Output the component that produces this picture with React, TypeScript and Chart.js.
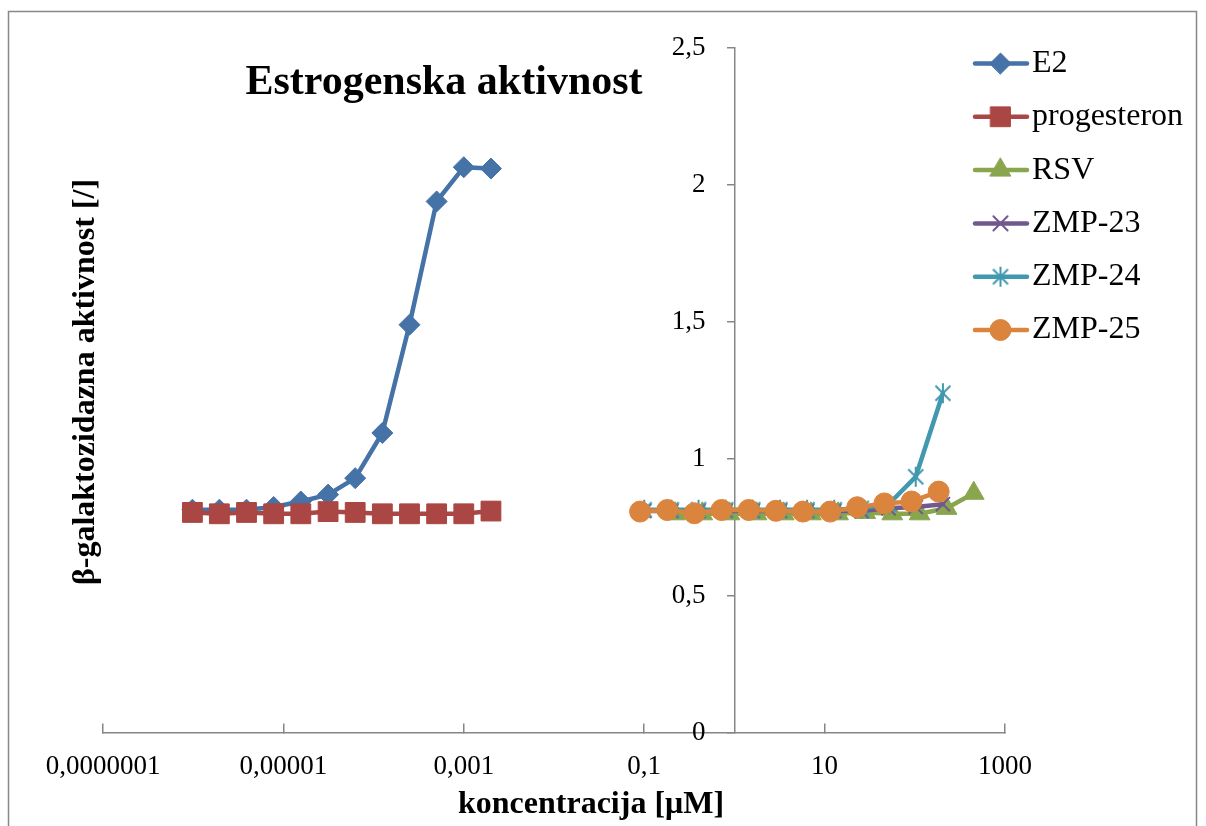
import React, { useEffect, useRef } from 'react';
import { Chart, registerables } from 'chart.js';
import { drawPoint } from 'chart.js/helpers';

Chart.register(...registerables);

const FONT = '"Liberation Serif", "Times New Roman", serif';

const TITLE = 'Estrogenska aktivnost';
const X_TITLE = 'koncentracija [μM]';
const Y_TITLE = 'β-galaktozidazna aktivnost [/]';

const SERIES_NAMES = ['E2', 'progesteron', 'RSV', 'ZMP-23', 'ZMP-24', 'ZMP-25'];
const SERIES_COLORS = ['#4572A7', '#AA4643', '#89A54E', '#71588F', '#4198AF', '#DB843D'];

// concentrations [µM]
const E2_CONC = [0.00000098, 0.00000195, 0.0000039, 0.0000078, 0.0000156, 0.0000313, 0.0000625, 0.000125, 0.00025, 0.0005, 0.001, 0.002];
const PROG_CONC = [0.00000098, 0.00000195, 0.0000039, 0.0000078, 0.0000156, 0.0000313, 0.0000625, 0.000125, 0.00025, 0.0005, 0.001, 0.002];
const RSV_CONC = [0.22, 0.44, 0.88, 1.76, 3.52, 7.04, 14.1, 28.2, 56.3, 113, 225, 450];
const ZMP23_CONC = [0.1, 0.2, 0.4, 0.8, 1.6, 3.2, 6.4, 12.8, 25.6, 51.2, 102.4, 204.8];
const ZMP24_CONC = [0.1, 0.2, 0.4, 0.8, 1.6, 3.2, 6.4, 12.8, 25.6, 51.2, 102.4, 204.8];
const ZMP25_CONC = [0.09, 0.18, 0.36, 0.72, 1.44, 2.88, 5.76, 11.5, 23, 46, 92, 184];

// beta-galactosidase activity
const E2_VALUES = [0.815, 0.815, 0.815, 0.825, 0.845, 0.87, 0.93, 1.095, 1.49, 1.94, 2.065, 2.06];
const PROG_VALUES = [0.805, 0.8, 0.805, 0.8, 0.8, 0.808, 0.805, 0.8, 0.8, 0.8, 0.8, 0.81];
const RSV_VALUES = [0.8, 0.8, 0.8, 0.8, 0.8, 0.8, 0.8, 0.805, 0.8, 0.8, 0.82, 0.875];
const ZMP23_VALUES = [0.81, 0.81, 0.81, 0.81, 0.81, 0.81, 0.81, 0.81, 0.81, 0.82, 0.825, 0.835];
const ZMP24_VALUES = [0.815, 0.815, 0.815, 0.815, 0.815, 0.815, 0.815, 0.815, 0.82, 0.835, 0.935, 1.24];
const ZMP25_VALUES = [0.808, 0.814, 0.802, 0.814, 0.814, 0.811, 0.808, 0.808, 0.824, 0.838, 0.845, 0.881];

const X_TICK_VALUES = [0.0000001, 0.00001, 0.001, 0.1, 10, 1000];
const X_TICK_LABELS = ['0,0000001', '0,00001', '0,001', '0,1', '10', '1000'];
const Y_TICK_VALUES = [0, 0.5, 1, 1.5, 2, 2.5];
const Y_TICK_LABELS = ['0', '0,5', '1', '1,5', '2', '2,5'];
const Y_AXIS_CROSS_X = 1;

const toPoints = (xs: number[], ys: number[]) => xs.map((x, i) => ({ x, y: ys[i] }));

function makeAsterisk(color: string) {
  const c = document.createElement('canvas');
  c.width = 24;
  c.height = 24;
  const g = c.getContext('2d')!;
  g.strokeStyle = color;
  g.lineWidth = 2;
  const cx = 12, cy = 12, r = 10, d = 7.5;
  g.beginPath();
  g.moveTo(cx, cy - r);
  g.lineTo(cx, cy + r);
  g.moveTo(cx - d, cy - d);
  g.lineTo(cx + d, cy + d);
  g.moveTo(cx - d, cy + d);
  g.lineTo(cx + d, cy - d);
  g.stroke();
  return c;
}

const overlayPlugin = {
  id: 'overlay',
  afterDraw(chart: any) {
    const ctx = chart.ctx as CanvasRenderingContext2D;
    ctx.save();
    // outer frame
    ctx.strokeStyle = '#878787';
    ctx.lineWidth = 1.5;
    ctx.strokeRect(8.5, 11.5, 1188, 900);
    // y tick labels (left of the crossing y axis)
    const xs = chart.scales.x;
    const ys = chart.scales.y;
    const axisX = xs.getPixelForValue(Y_AXIS_CROSS_X);
    ctx.fillStyle = '#000';
    ctx.font = `27px ${FONT}`;
    ctx.textAlign = 'right';
    ctx.textBaseline = 'middle';
    ys.ticks.forEach((t: any, i: number) => {
      ctx.fillText(Y_TICK_LABELS[i], axisX - 29, ys.getPixelForValue(t.value));
    });
    // title
    ctx.font = `bold 42px ${FONT}`;
    ctx.textAlign = 'center';
    ctx.textBaseline = 'alphabetic';
    ctx.fillText(TITLE, 444, 94);
    // x title
    ctx.font = `bold 32px ${FONT}`;
    ctx.fillText(X_TITLE, 591, 813);
    // y title
    ctx.save();
    ctx.translate(86, 382);
    ctx.rotate(-Math.PI / 2);
    ctx.textBaseline = 'middle';
    ctx.fillText(Y_TITLE, 0, 0);
    ctx.restore();
    // legend
    chart.data.datasets.forEach((ds: any, i: number) => {
      const y = 63.5 + i * 53.3;
      ctx.save();
      ctx.strokeStyle = ds.borderColor;
      ctx.lineWidth = ds.borderWidth;
      ctx.lineCap = 'round';
      ctx.beginPath();
      ctx.moveTo(975, y);
      ctx.lineTo(1027, y);
      ctx.stroke();
      ctx.fillStyle = ds.pointBackgroundColor;
      ctx.strokeStyle = ds.pointBorderColor;
      ctx.lineWidth = ds.pointBorderWidth;
      drawPoint(ctx, { pointStyle: ds.pointStyle, radius: ds.pointRadius, borderWidth: ds.pointBorderWidth, rotation: 0 } as any, 1000.5, y);
      ctx.fillStyle = '#000';
      ctx.font = `32px ${FONT}`;
      ctx.textAlign = 'left';
      ctx.textBaseline = 'middle';
      ctx.fillText(ds.label, 1032, y);
      ctx.restore();
    });
    ctx.restore();
  },
};

export default function App() {
  const ref = useRef<HTMLCanvasElement>(null);
  useEffect(() => {
    if (!ref.current) return;
    const concs = [E2_CONC, PROG_CONC, RSV_CONC, ZMP23_CONC, ZMP24_CONC, ZMP25_CONC];
    const vals = [E2_VALUES, PROG_VALUES, RSV_VALUES, ZMP23_VALUES, ZMP24_VALUES, ZMP25_VALUES];
    const styles: any[] = ['rectRot', 'rect', 'triangle', 'crossRot', makeAsterisk(SERIES_COLORS[4]), 'circle'];
    const radii = [10.5, 14, 12, 10, 10, 10.5];
    const pbw = [1, 1, 1, 2, 2, 1];
    const datasets = SERIES_NAMES.map((name, i) => ({
      label: name,
      data: toPoints(concs[i], vals[i]),
      borderColor: SERIES_COLORS[i],
      backgroundColor: SERIES_COLORS[i],
      pointBackgroundColor: SERIES_COLORS[i],
      pointBorderColor: SERIES_COLORS[i],
      pointBorderWidth: pbw[i],
      pointStyle: styles[i],
      pointRadius: radii[i],
      pointHoverRadius: radii[i],
      borderWidth: 4.5,
      borderJoinStyle: 'round' as const,
      borderCapStyle: 'round' as const,
      tension: 0,
      order: 5 - i,
    }));
    const chart = new Chart(ref.current, {
      type: 'line',
      data: { datasets },
      plugins: [overlayPlugin],
      options: {
        animation: false,
        responsive: false,
        events: [],
        layout: { padding: { left: 103, right: 201, top: 48, bottom: 93 } },
        plugins: { legend: { display: false }, title: { display: false }, tooltip: { enabled: false } },
        scales: {
          x: {
            type: 'logarithmic',
            min: 0.0000001,
            max: 1000,
            position: { y: 0 } as any,
            afterBuildTicks: (scale: any) => {
              scale.ticks = X_TICK_VALUES.map((v) => ({ value: v }));
            },
            grid: { display: true, drawOnChartArea: false, drawTicks: true, tickLength: -10, color: '#868686', lineWidth: 1.5 },
            border: { display: true, color: '#868686', width: 1.5 },
            ticks: {
              autoSkip: false,
              maxRotation: 0,
              padding: 28,
              color: '#000',
              font: { family: FONT, size: 27 },
              callback: (_v: any, i: number) => X_TICK_LABELS[i],
            },
          },
          y: {
            type: 'linear',
            min: 0,
            max: 2.5,
            position: { x: Y_AXIS_CROSS_X } as any,
            afterBuildTicks: (scale: any) => {
              scale.ticks = Y_TICK_VALUES.map((v) => ({ value: v }));
            },
            grid: { display: true, drawOnChartArea: false, drawTicks: true, tickLength: 7, color: '#868686', lineWidth: 1.5 },
            border: { display: true, color: '#868686', width: 1.5 },
            ticks: {
              display: false,
              font: { family: FONT, size: 27 },
            },
          },
        },
      },
    });
    return () => chart.destroy();
  }, []);
  return (
    <div style={{ position: 'absolute', left: 0, top: 0, width: 1206, height: 826, background: '#fff' }}>
      <canvas ref={ref} width={1206} height={826} style={{ display: 'block' }} />
    </div>
  );
}
